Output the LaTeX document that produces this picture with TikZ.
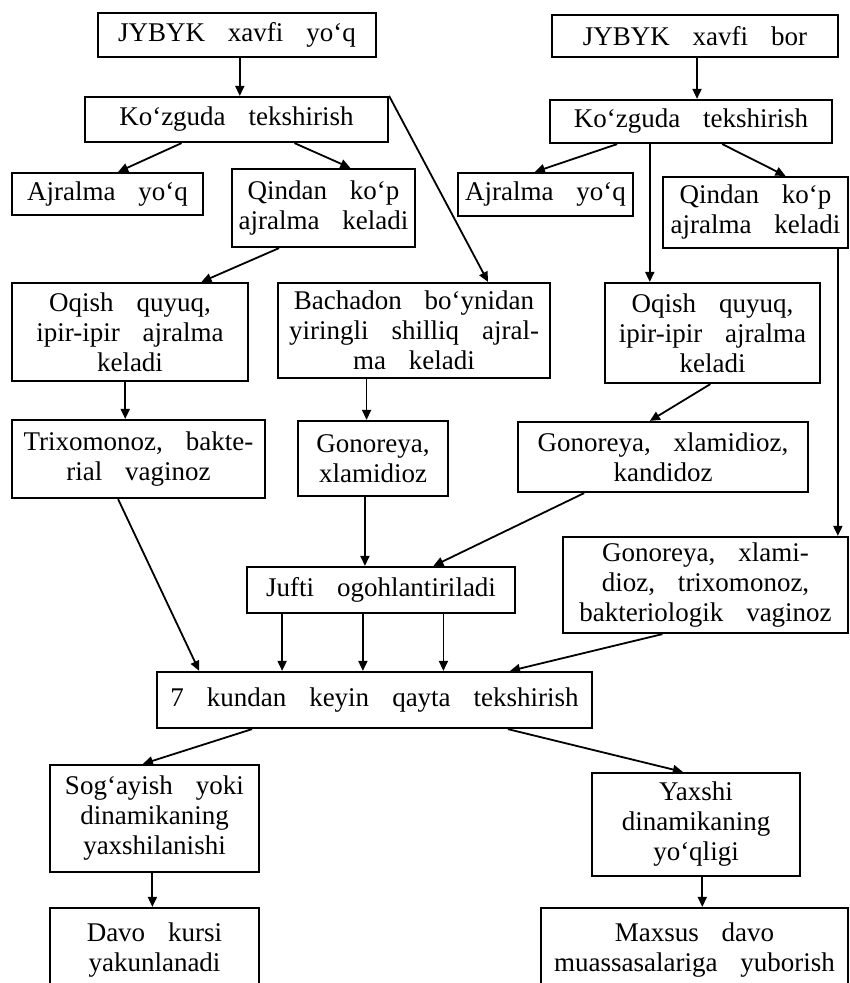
\documentclass[tikz,border=0pt]{standalone}
\usepackage{fontspec}
\setmainfont{Liberation Serif}
\usetikzlibrary{arrows.meta,calc}
\newcommand\myboxfont{\fontsize{27}{30}\selectfont\frenchspacing\spaceskip=23pt plus 4pt minus 2pt\relax\xspaceskip=\spaceskip}
\tikzset{
  box/.style={draw, line width=2.2pt, inner sep=0pt, align=center, font=\myboxfont},
  arr/.style={line width=1.8pt, -{Triangle[length=10pt,width=9pt]}},
}
\begin{document}
\begin{tikzpicture}[x=1pt,y=-1pt]
\useasboundingbox (0,0) rectangle (850,983);
\clip (0,0) rectangle (850,983);
% nodes
\node[box, minimum width=278pt, minimum height=44pt] (n1) at (237,35) {JYBYK xavfi yo‘q};
\node[box, minimum width=286pt, minimum height=42pt] (n2) at (695,36) {JYBYK xavfi bor};
\node[box, minimum width=303pt, minimum height=45pt] (k1) at (236.5,119.5) {Ko‘zguda tekshirish};
\node[box, minimum width=282pt, minimum height=43pt] (k2) at (691,121.5) {Ko‘zguda tekshirish};
\node[box, minimum width=191pt, minimum height=42pt] (a1) at (107.5,194) {Ajralma yo‘q};
\node[box, minimum width=183pt, minimum height=78pt] (q1) at (323.5,208) {Qindan ko‘p\\ajralma keladi};
\node[box, minimum width=175pt, minimum height=43pt] (a2) at (545.5,194.5) {Ajralma yo‘q};
\node[box, minimum width=185pt, minimum height=71pt] (q2) at (755.5,212.5) {Qindan ko‘p\\ajralma keladi};
\node[box, minimum width=236pt, minimum height=98pt] (o1) at (130,332) {Oqish quyuq,\\ipir-ipir ajralma\\keladi};
\node[box, minimum width=272pt, minimum height=95pt] (b) at (414,330.5) {Bachadon bo‘ynidan\\yiringli shilliq ajral-\\ma keladi};
\node[box, minimum width=215pt, minimum height=100pt] (o2) at (712.5,333) {Oqish quyuq,\\ipir-ipir ajralma\\keladi};
\node[box, minimum width=253pt, minimum height=78pt] (t) at (138.5,459) {Trixomonoz, bakte-\\rial vaginoz};
\node[box, minimum width=150pt, minimum height=75pt] (g1) at (373,458.5) {Gonoreya,\\xlamidioz};
\node[box, minimum width=290pt, minimum height=70pt] (g2) at (663,457) {Gonoreya, xlamidioz,\\kandidoz};
\node[box, minimum width=285pt, minimum height=96pt] (g3) at (705.5,585) {Gonoreya, xlami-\\dioz, trixomonoz,\\bakteriologik vaginoz};
\node[box, minimum width=268pt, minimum height=46pt] (j) at (381,590) {Jufti ogohlantiriladi};
\node[box, minimum width=435pt, minimum height=56pt] (s) at (374.5,700) {7 kundan keyin qayta tekshirish};
\node[box, minimum width=209pt, minimum height=107pt] (sg) at (154.5,818.5) {Sog‘ayish yoki\\dinamikaning\\yaxshilanishi};
\node[box, minimum width=208pt, minimum height=103pt] (yx) at (696,824.5) {Yaxshi\\dinamikaning\\yo‘qligi};
\node[box, minimum width=209pt, minimum height=84pt] (d) at (154.5,950) {Davo kursi\\yakunlanadi};
\node[box, minimum width=307pt, minimum height=84pt] (m) at (694.5,950) {Maxsus davo\\muassasalariga yuborish};
% connectors
\draw[arr] ($(n1.south west)!0.51!(n1.south east)$) coordinate (c1) -- (c1 |- k1.north);
\draw[arr] ($(n2.south west)!0.507!(n2.south east)$) coordinate (c2) -- (c2 |- k2.north);
\draw[arr] ($(k1.south west)!0.32!(k1.south east)$) -- ($(a1.north west)!0.555!(a1.north east)$);
\draw[arr] ($(k1.south west)!0.69!(k1.south east)$) -- ($(q1.north west)!0.645!(q1.north east)$);
\draw[arr] (k1.north east) -- ($(b.north west)!0.77!(b.north east)$);
\draw[arr] ($(q1.south west)!0.26!(q1.south east)$) -- ($(o1.north west)!0.80!(o1.north east)$);
\draw[arr] ($(k2.south west)!0.24!(k2.south east)$) -- ($(a2.north west)!0.44!(a2.north east)$);
\draw[arr] ($(k2.south west)!0.61!(k2.south east)$) -- ($(q2.north west)!0.66!(q2.north east)$);
\draw[arr] ($(k2.south west)!0.355!(k2.south east)$) coordinate (c3) -- (c3 |- o2.north);
\draw[arr] ($(q2.south west)!0.94!(q2.south east)$) coordinate (c4) -- (c4 |- g3.north);
\draw[arr] ($(o2.south west)!0.49!(o2.south east)$) -- ($(g2.north west)!0.455!(g2.north east)$);
\draw[arr] ($(o1.south west)!0.48!(o1.south east)$) coordinate (c5) -- (c5 |- t.north);
\draw[arr] ($(b.south west)!0.327!(b.south east)$) coordinate (c6) -- (c6 |- g1.north);
\draw[arr] ($(t.south west)!0.42!(t.south east)$) -- ($(s.north west)!0.099!(s.north east)$);
\draw[arr] ($(g1.south west)!0.447!(g1.south east)$) coordinate (c7) -- (c7 |- j.north);
\draw[arr] ($(g2.south west)!0.23!(g2.south east)$) -- ($(j.north west)!0.694!(j.north east)$);
\draw[arr] ($(g3.south west)!0.35!(g3.south east)$) -- ($(s.north west)!0.81!(s.north east)$);
\draw[arr] ($(j.south west)!0.134!(j.south east)$) coordinate (c8) -- (c8 |- s.north);
\draw[arr] ($(j.south west)!0.433!(j.south east)$) coordinate (c9) -- (c9 |- s.north);
\draw[arr] ($(j.south west)!0.731!(j.south east)$) coordinate (c10) -- (c10 |- s.north);
\draw[arr] ($(s.south west)!0.22!(s.south east)$) -- ($(sg.north west)!0.445!(sg.north east)$);
\draw[arr] ($(s.south west)!0.805!(s.south east)$) -- ($(yx.north west)!0.4375!(yx.north east)$);
\draw[arr] ($(sg.south west)!0.49!(sg.south east)$) coordinate (c11) -- (c11 |- d.north);
\draw[arr] ($(yx.south west)!0.53!(yx.south east)$) coordinate (c12) -- (c12 |- m.north);
\end{tikzpicture}
\end{document}
